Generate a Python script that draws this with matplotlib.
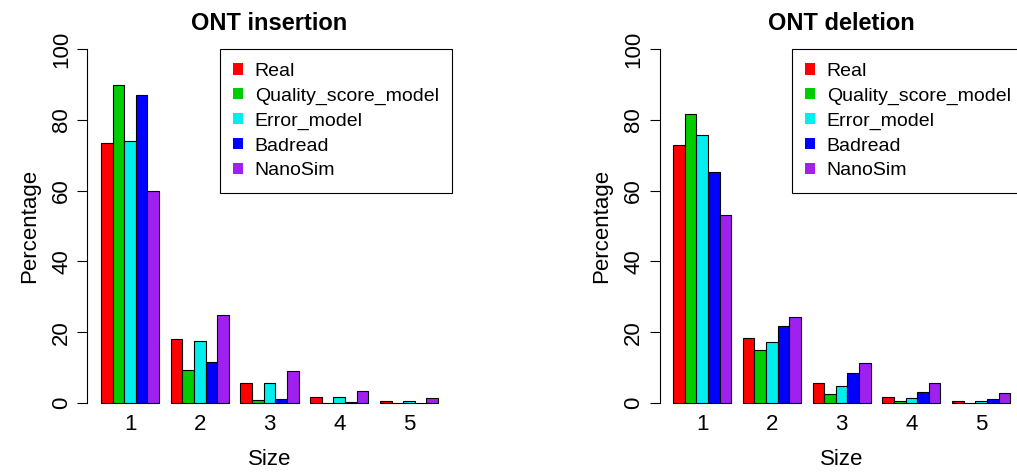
import matplotlib
matplotlib.use('Agg')
import matplotlib.pyplot as plt
from matplotlib.patches import Patch
import numpy as np

plt.rcParams['font.family'] = ['Liberation Sans', 'DejaVu Sans']

tamanhos = ['1', '2', '3', '4', '5']
modelos = ['Real', 'Quality_score_model', 'Error_model', 'Badread', 'NanoSim']
cores = ['#FF0000', '#00CD00', '#00EEEE', '#0000FF', '#A020F0']

# percentuais por tamanho (linhas = modelos)
insercao = [
    [73.4, 18.1, 5.6, 1.7, 0.6],
    [89.8, 9.2, 0.85, 0.1, 0.05],
    [74.0, 17.4, 5.6, 1.8, 0.5],
    [87.0, 11.7, 1.1, 0.2, 0.1],
    [59.9, 24.9, 9.0, 3.4, 1.3],
]
delecao = [
    [72.9, 18.3, 5.7, 1.7, 0.6],
    [81.6, 14.9, 2.5, 0.5, 0.1],
    [75.7, 17.1, 4.7, 1.5, 0.5],
    [65.3, 21.7, 8.5, 3.0, 1.1],
    [53.1, 24.2, 11.3, 5.5, 2.7],
]


def painel(ax, dados, titulo):
    ng = len(tamanhos)
    for s, (vals, cor) in enumerate(zip(dados, cores)):
        xs = np.arange(ng) * 6 + 1 + s
        ax.bar(xs, vals, width=1, align='edge', color=cor,
               edgecolor='black', linewidth=0.8)
    ax.set_xlim(-0.16, 31.16)
    ax.set_ylim(-4, 104)
    for lado in ['top', 'right', 'bottom']:
        ax.spines[lado].set_visible(False)
    ax.spines['left'].set_bounds(0, 100)
    ax.spines['left'].set_linewidth(0.8)
    ax.set_yticks([0, 20, 40, 60, 80, 100])
    ax.set_yticklabels(['0', '20', '40', '60', '80', '100'],
                       rotation=90, va='center', fontsize=16)
    ax.tick_params(axis='y', length=7, width=0.8, pad=4)
    ax.set_xticks(np.arange(ng) * 6 + 3.5)
    ax.set_xticklabels(tamanhos, fontsize=16)
    ax.tick_params(axis='x', length=0, pad=-2)
    ax.set_xlabel('Size', fontsize=16, labelpad=10)
    ax.set_ylabel('Percentage', fontsize=16, labelpad=8)
    ax.set_title(titulo, fontsize=17, fontweight='bold', pad=-1)
    handles = [Patch(facecolor=c, edgecolor='none') for c in cores]
    leg = ax.legend(handles, modelos, loc='upper left',
                    bbox_to_anchor=(0.363, 0.963), fontsize=14,
                    handlelength=0.5, handleheight=0.5, handletextpad=0.6,
                    labelspacing=0.4, borderpad=0.7, borderaxespad=0,
                    fancybox=False, framealpha=1)
    leg.get_frame().set_edgecolor('black')
    leg.get_frame().set_linewidth(0.8)


fig = plt.figure(figsize=(10.17, 4.72), dpi=100)
ax1 = fig.add_axes([0.086, 0.1165, 0.358, 0.809])
ax2 = fig.add_axes([0.6485, 0.1165, 0.358, 0.809])
painel(ax1, insercao, 'ONT insertion')
painel(ax2, delecao, 'ONT deletion')

fig.savefig('out.png', dpi=100)
